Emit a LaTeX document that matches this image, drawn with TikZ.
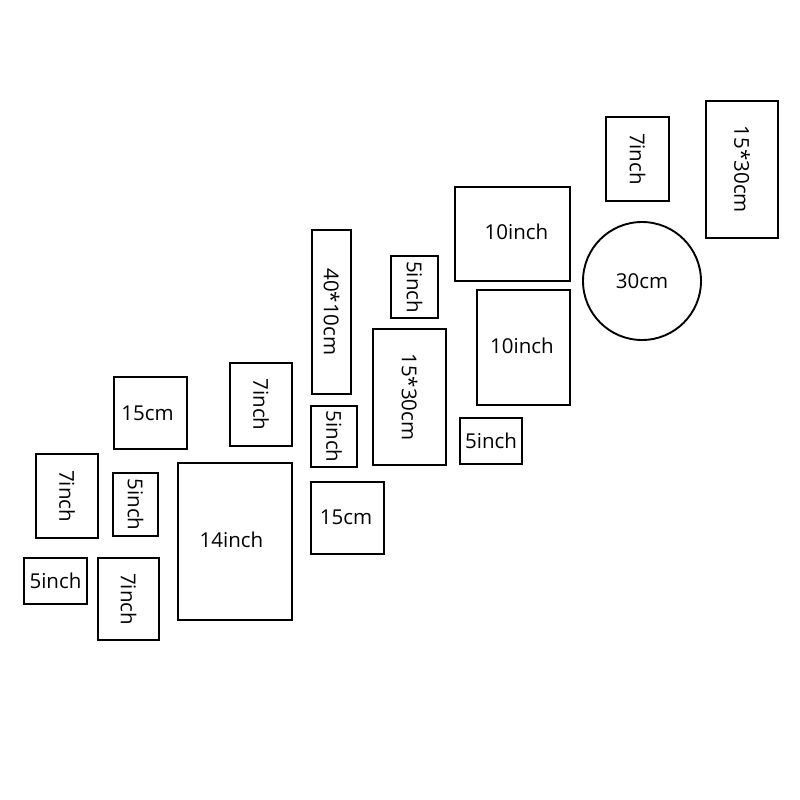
\documentclass[tikz,border=0pt]{standalone}
\usepackage{fontspec}
\setmainfont{Open Sans}
\tikzset{
  frame/.style={draw, line width=1.9pt, inner sep=0pt, font=\fontsize{20.5}{24}\selectfont},
  upright/.style={frame, rotate=-90}
}
\begin{document}
\begin{tikzpicture}[x=1pt,y=-1pt]
\useasboundingbox (0,0) rectangle (800,800);

% left group
\node[frame, minimum width=73, minimum height=72] (cmA) at (150.5,413) {\hspace{-6pt}15cm};
\node[upright, minimum width=83, minimum height=62] (inA) at (261,404.5) {7inch};
\node[upright, minimum width=84, minimum height=62] (inB) at (67,496) {7inch};
\node[upright, minimum width=63, minimum height=45] (inC) at (135.5,504.5) {5inch};
\node[frame, minimum width=114, minimum height=157] (inD) at (235,541.5) {\raisebox{3pt}{\hspace{-7pt}14inch}};
\node[frame, minimum width=63, minimum height=46] (inE) at (55.5,581) {5inch};
\node[upright, minimum width=82, minimum height=61] (inF) at (128.5,599) {7inch};

% middle group
\node[upright, minimum width=164, minimum height=39] (cmB) at (331.5,312) {40*10cm};
\node[upright, minimum width=62, minimum height=47] (inG) at (414.5,287) {5inch};
\node[upright, minimum width=136, minimum height=73] (cmC) at (409.5,397) {15*30cm};
\node[upright, minimum width=61, minimum height=46] (inH) at (334,436.5) {5inch};
\node[frame, minimum width=73, minimum height=72] (cmD) at (347.5,518) {\raisebox{2pt}{\hspace{-3pt}15cm}};
\node[frame, minimum width=93, minimum height=115] (inI) at (523.5,347.5) {\raisebox{3pt}{\hspace{-3pt}10inch}};
\node[frame, minimum width=62, minimum height=46] (inJ) at (491,441) {5inch};

% right group
\node[frame, minimum width=115, minimum height=94] (inK) at (512.5,234) {\raisebox{5pt}{\hspace{8pt}10inch}};
\node[upright, minimum width=84, minimum height=63] (inL) at (637.5,159) {7inch};
\node[upright, minimum width=137, minimum height=72] (cmE) at (742,169.5) {15*30cm};
\node[frame, circle, minimum size=118] (cmF) at (642,281) {30cm};
\end{tikzpicture}
\end{document}
